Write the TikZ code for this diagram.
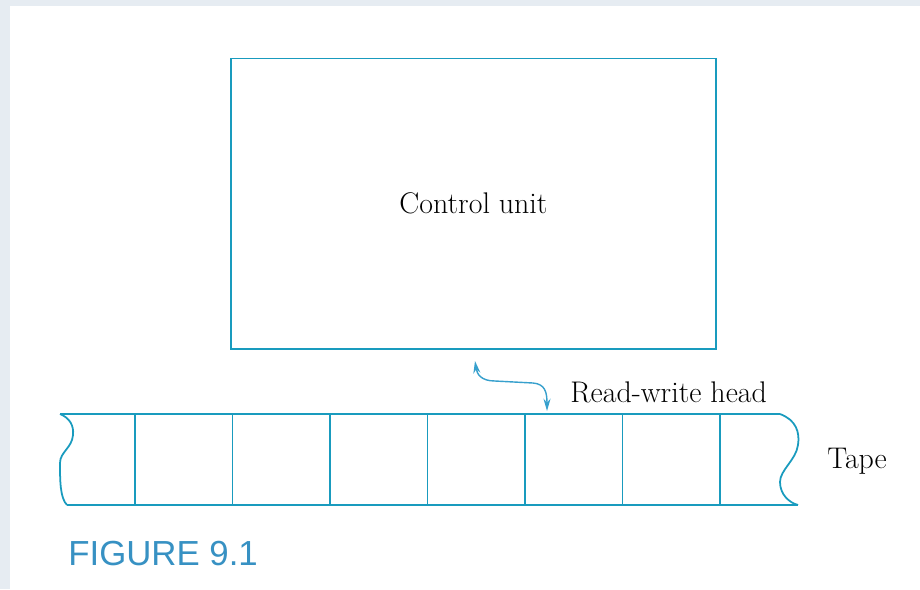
\documentclass[tikz,border=0pt]{standalone}
\usepackage{xcolor}
\usepackage{fontspec}
\usepackage{tikz}
\usetikzlibrary{positioning, calc, arrows.meta}

\newfontfamily\captionsans{Liberation Sans}
\definecolor{tapeblue}{RGB}{25,155,190}
\definecolor{headblue}{RGB}{55,160,205}
\definecolor{captionblue}{RGB}{55,145,195}
\definecolor{pagegray}{RGB}{230,236,242}

\begin{document}
\begin{tikzpicture}[x=0.02cm, y=-0.02cm,
    lbl/.style={font=\fontsize{17}{20}\selectfont, inner sep=0pt},
    frame/.style={draw=tapeblue, line width=1pt}]
        % page with the grey strip on top and left
        \fill[pagegray] (0,0) rectangle (920,589);
        \fill[white] (10,6) rectangle (920,589);
        \useasboundingbox (0,0) rectangle (920,589);

        \node[frame, lbl, minimum width=9.7cm, minimum height=5.81cm] (unit) at (473.5,203.75) {Control unit};

        % tape
        \draw[frame] (60,414) -- (780,414);
        \draw[frame] (67,505) -- (798,505);
        \draw[frame] (60,414) .. controls (70,418) and (74,426) .. (73,435)
            .. controls (72,448) and (60,452) .. (60,463)
            .. controls (60,480) and (60,498) .. (67,505);
        \draw[frame] (780,414) .. controls (796,420) and (800,432) .. (798,445)
            .. controls (796,460) and (780,470) .. (780,482)
            .. controls (780,495) and (790,503) .. (798,505);
        \foreach \i in {0,...,6}
            \draw[frame] ({135+97.5*\i},414) -- ({135+97.5*\i},505);

        \coordinate (headfoot) at (475,361);
        \coordinate (headtip) at (547,411);
        \draw[headblue, line width=0.8pt, {Stealth[length=7pt,width=4pt]}-{Stealth[length=7pt,width=4pt]}]
            (headfoot) .. controls (477,374) and (481,381) .. (495,381)
            -- (533,383) .. controls (545,384) and (547,392) .. (headtip);

        \node[lbl, anchor=base west] (head) at (570,402) {Read-write head};
        \node[lbl, anchor=base west] (tape) at (827,468) {Tape};

        \node[anchor=base west, inner sep=0pt, text=captionblue,
              font=\captionsans\fontsize{19.8}{23}\selectfont] (caption) at (68,565) {FIGURE 9.1};
    \end{tikzpicture}
\end{document}
